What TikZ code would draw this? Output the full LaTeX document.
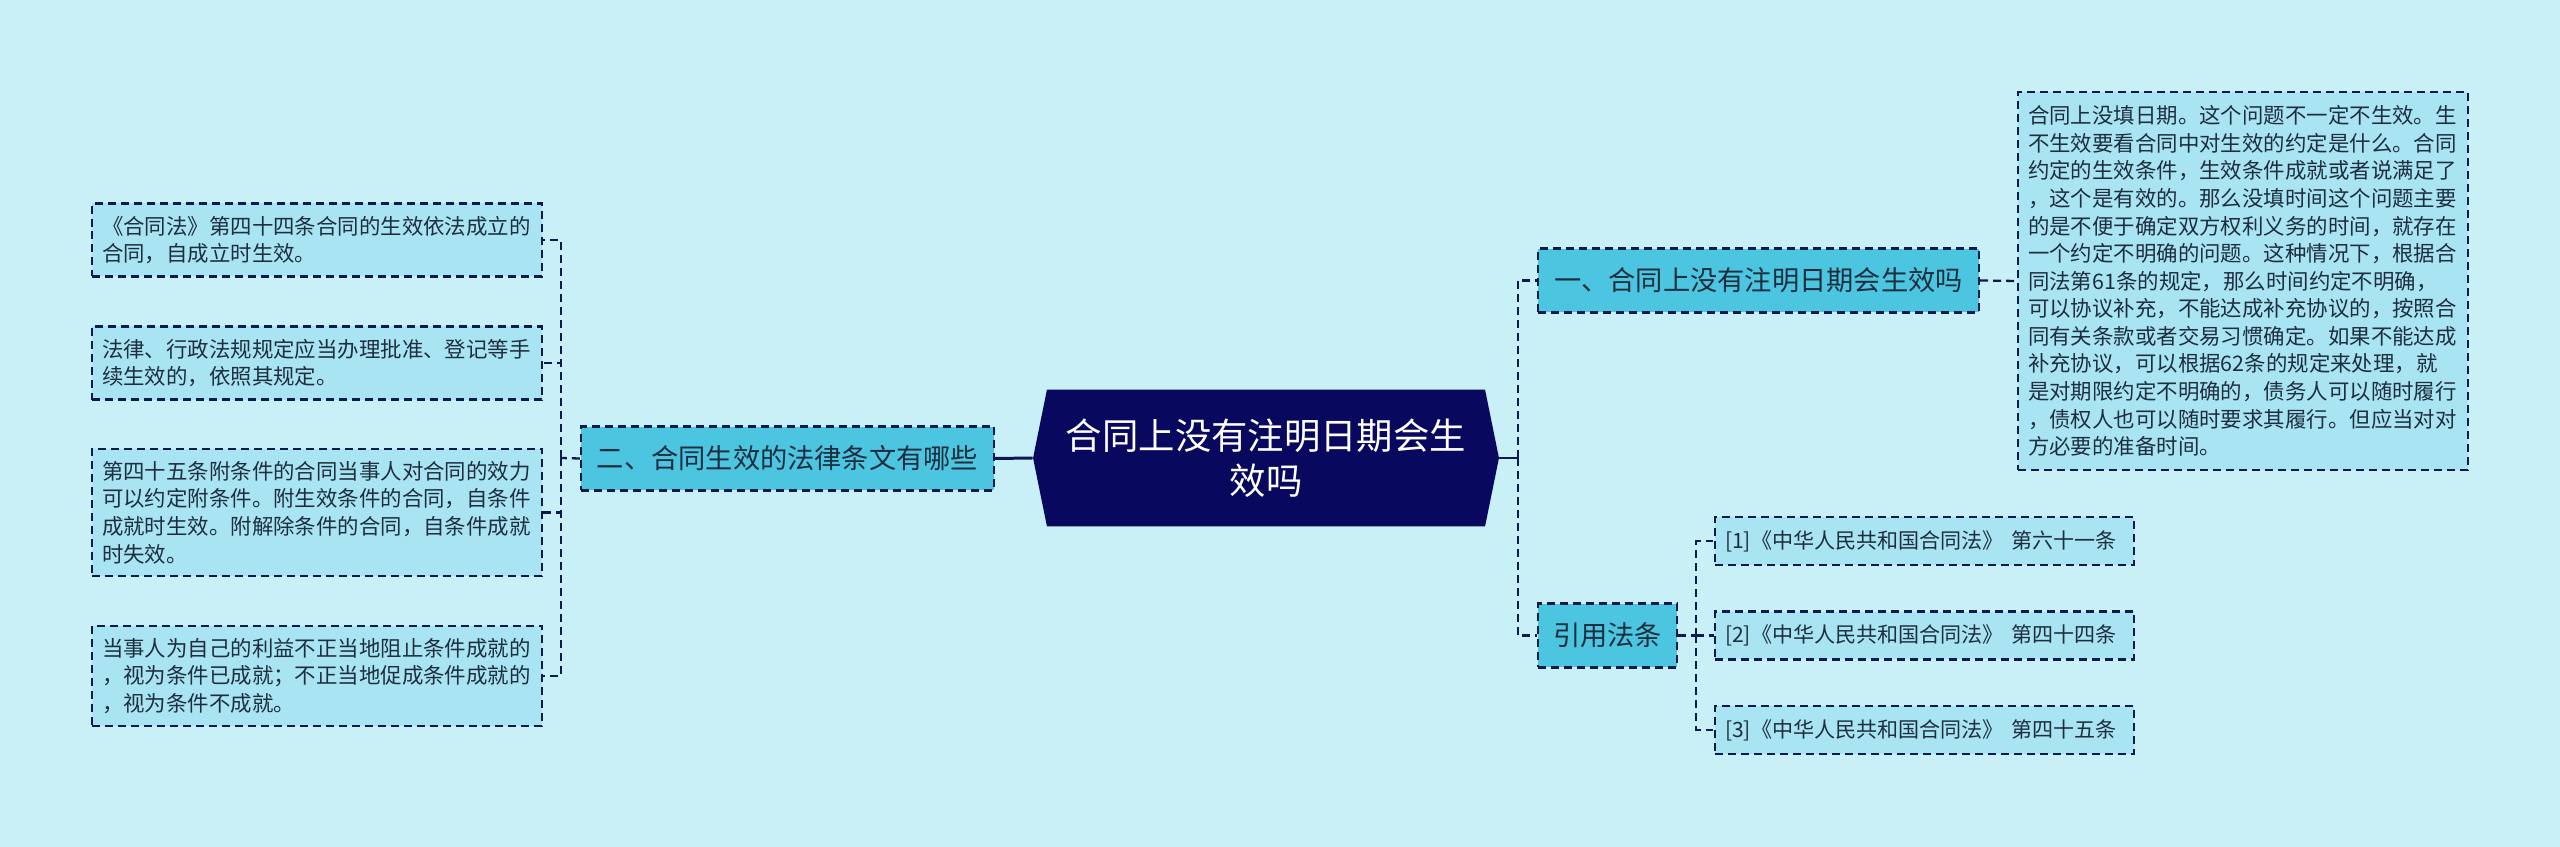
\documentclass[tikz,border=0pt]{standalone}
\usepackage{fontspec}
\usepackage{tikz}
\usetikzlibrary{shapes.symbols, calc}
\newfontfamily\cjk{Noto Sans CJK SC}
\definecolor{bgBlue}{HTML}{C9EFF7}
\definecolor{brFill}{HTML}{4CC5E1}
\definecolor{lfFill}{HTML}{A9E4F3}
\definecolor{rtFill}{HTML}{08085E}
\definecolor{lnNavy}{HTML}{0D1A4D}
\definecolor{txDark}{HTML}{1E2E3E}

\tikzset{
  dashln/.style={draw=lnNavy, line width=1.3pt, dash pattern=on 0.16cm off 0.1cm},
  rootbox/.style={signal, signal to=east and west, signal pointer angle=157,
    fill=rtFill, text=white, align=center, minimum width=9.32cm, minimum height=2.74cm,
    font=\cjk\fontsize{20.7pt}{25.5pt}\selectfont},
  branch/.style={dashln, fill=brFill, text=txDark, minimum height=1.28cm, inner xsep=0.2cm,
    font=\cjk\fontsize{15.5pt}{18pt}\selectfont},
  leaf/.style={dashln, fill=lfFill, text=txDark, align=left, text width=8.6cm,
    inner xsep=0.2cm, inner ysep=0.25cm, font=\cjk\fontsize{12.2pt}{15.7pt}\selectfont},
  cite/.style={leaf, text width=7.98cm, minimum height=0.96cm, inner ysep=0.2cm,
    font=\cjk\fontsize{12pt}{15pt}\selectfont},
}

\begin{document}
\begin{tikzpicture}[x=0.02cm, y=-0.02cm]
  \fill[bgBlue] (0,0) rectangle (2560,847);
  \useasboundingbox (0,0) rectangle (2560,847);

  % centre
  \node[rootbox] (root) at (1266,458) {合同上没有注明日期会生\\效吗};

  % first level
  \node[branch, minimum width=8.82cm] (b1) at (1758.5,280.5) {一、合同上没有注明日期会生效吗};
  \node[branch, minimum width=8.26cm] (b2) at (787.5,458.5) {二、合同生效的法律条文有哪些};
  \node[branch, minimum width=2.78cm] (b3) at (1607.5,635.5) {引用法条};

  % right detail
  \node[leaf, minimum height=7.56cm] (d1) at (2243,281) {合同上没填日期。这个问题不一定不生效。生\\
    不生效要看合同中对生效的约定是什么。合同\\约定的生效条件，生效条件成就或者说满足了\\
    ，这个是有效的。那么没填时间这个问题主要\\的是不便于确定双方权利义务的时间，就存在\\
    一个约定不明确的问题。这种情况下，根据合\\同法第61条的规定，那么时间约定不明确，\\
    可以协议补充，不能达成补充协议的，按照合\\同有关条款或者交易习惯确定。如果不能达成\\
    补充协议，可以根据62条的规定来处理，就\\是对期限约定不明确的，债务人可以随时履行\\
    ，债权人也可以随时要求其履行。但应当对对\\方必要的准备时间。};

  % left details
  \node[leaf] (l1) at (317,240) {《合同法》第四十四条合同的生效依法成立的\\合同，自成立时生效。};
  \node[leaf] (l2) at (317,363) {法律、行政法规规定应当办理批准、登记等手\\续生效的，依照其规定。};
  \node[leaf] (l3) at (317,512.5) {第四十五条附条件的合同当事人对合同的效力\\可以约定附条件。附生效条件的合同，自条件\\成就时生效。附解除条件的合同，自条件成就\\时失效。};
  \node[leaf] (l4) at (317,676) {当事人为自己的利益不正当地阻止条件成就的\\，视为条件已成就；不正当地促成条件成就的\\，视为条件不成就。};

  % cited laws
  \foreach \i/\y/\art in {1/541/第六十一条, 2/635.5/第四十四条, 3/730/第四十五条}
    \node[cite] (c\i) at (1924.5,\y) {[\i]《中华人民共和国合同法》~\art};

  % connectors
  \coordinate (lj) at (561,458);
  \coordinate (rj) at (1518,458);
  \coordinate (cj) at (1696,635.5);
  \draw[lnNavy, line width=1.7pt] (root.west) -- (b2.east);
  \draw[lnNavy, line width=1.7pt] (root.east) -- (rj);
  \draw[dashln] (b2.west) -- (lj);
  \foreach \i in {1,...,4}
    \draw[dashln] (lj) |- (l\i.east);
  \draw[dashln] (rj) |- (b1.west);
  \draw[dashln] (rj) |- (b3.west);
  \draw[dashln] (b1.east) -- (d1.west);
  \draw[dashln] (b3.east) -- (cj);
  \foreach \i in {1,2,3}
    \draw[dashln] (cj) |- (c\i.west);
\end{tikzpicture}
\end{document}
